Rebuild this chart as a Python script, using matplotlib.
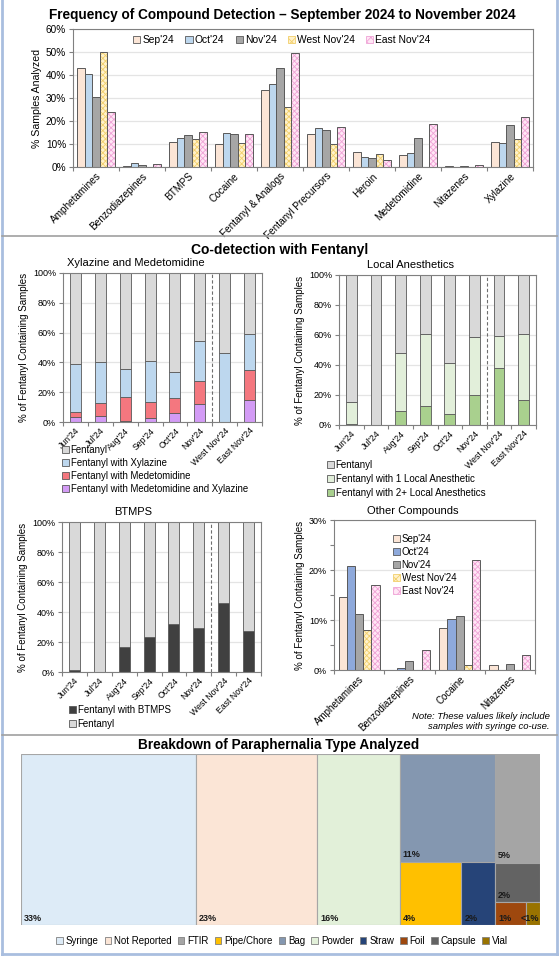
import matplotlib
matplotlib.use('Agg')
import matplotlib.pyplot as plt
import numpy as np
from matplotlib.patches import Patch, Rectangle
from matplotlib.lines import Line2D
from matplotlib.ticker import FuncFormatter, MultipleLocator

plt.rcParams['font.family'] = ['Liberation Sans', 'DejaVu Sans']
plt.rcParams['hatch.linewidth'] = 0.6

# ---------------- data ----------------
compounds = ['Amphetamines', 'Benzodiazepines', 'BTMPS', 'Cocaine', 'Fentanyl & Analogs',
             'Fentanyl Precursors', 'Heroin', 'Medetomidine', 'Nitazenes', 'Xylazine']
freq_sep = [43.0, 0.6, 10.8, 9.8, 33.6, 14.4, 6.5, 5.2, 0.3, 11.0]
freq_oct = [40.4, 1.8, 12.5, 14.6, 36.2, 17.0, 4.3, 6.2, 0.0, 10.4]
freq_nov = [30.5, 0.9, 13.8, 14.4, 43.2, 16.0, 3.8, 12.8, 0.5, 18.2]
freq_west = [50.0, 0.0, 12.0, 10.6, 26.0, 9.8, 5.6, 0.0, 0.0, 12.0]
freq_east = [24.0, 1.3, 15.2, 14.4, 49.4, 17.2, 3.0, 18.6, 0.8, 21.6]
series_names = ["Sep'24", "Oct'24", "Nov'24", "West Nov'24", "East Nov'24"]

periods = ["Jun'24", "Jul'24", "Aug'24", "Sep'24", "Oct'24", "Nov'24", "West Nov'24", "East Nov'24"]
xm_medxyl = [3.1, 4.0, 0.8, 2.5, 6.2, 12.0, 0.0, 15.0]
xm_med = [3.6, 8.8, 15.8, 10.9, 9.9, 15.7, 0.0, 20.0]
xm_xyl = [31.9, 27.2, 19.2, 27.8, 17.2, 26.9, 46.0, 24.0]
xm_fent = [61.4, 60.0, 64.2, 58.8, 66.7, 45.4, 54.0, 41.0]

la_two = [0.9, 0.0, 9.3, 12.4, 7.6, 19.8, 38.0, 16.9]
la_one = [14.7, 0.0, 38.7, 48.3, 34.0, 38.9, 21.6, 43.8]
la_fent = [84.4, 100.0, 52.0, 39.3, 58.4, 41.3, 40.4, 39.3]

bt_btmps = [1.6, 0.0, 16.7, 23.6, 32.0, 29.6, 46.0, 27.6]
bt_fent = [98.4, 100.0, 83.3, 76.4, 68.0, 70.4, 54.0, 72.4]

other = ['Amphetamines', 'Benzodiazepines', 'Cocaine', 'Nitazenes']
oc_sep = [14.7, 0.0, 8.5, 1.0]
oc_oct = [20.9, 0.4, 10.2, 0.0]
oc_nov = [11.3, 1.8, 10.9, 1.3]
oc_west = [8.0, 0.0, 1.0, 0.0]
oc_east = [17.0, 4.0, 22.0, 3.0]

para_labels = ['Syringe', 'Not Reported', 'Powder', 'Bag', 'Pipe/Chore', 'Straw',
               'FTIR', 'Capsule', 'Foil', 'Vial']
para_values = [33.7, 23.3, 15.9, 11.6, 4.4, 2.4, 5.5, 2.0, 0.8, 0.36]
para_text = ['33%', '23%', '16%', '11%', '4%', '2%', '5%', '2%', '1%', '<1%']
para_legend_order = ['Syringe', 'Not Reported', 'FTIR', 'Pipe/Chore', 'Bag', 'Powder',
                     'Straw', 'Foil', 'Capsule', 'Vial']

# ---------------- styles ----------------
EDGE = '#595959'
SPINE = '#808080'
GRID = '#E4E4E4'
c_sep = '#FBE5D6'
c_oct = '#BDD7EE'
c_oct2 = '#8EA9DB'
c_nov = '#A6A6A6'
c_west = '#FFF2CC'
h_west = '#F2CF6B'
c_east = '#FFE6F5'
h_east = '#EFA3D6'
c_fent = '#D9D9D9'
c_med = '#F4777F'
c_medxyl = '#D39BF5'
c_la1 = '#E2EFDA'
c_la2 = '#A9D08E'
c_btmps = '#404040'
para_colors = {'Syringe': '#DDEBF7', 'Not Reported': '#FBE5D6', 'Powder': '#E2F0D9',
               'Bag': '#8497B0', 'Pipe/Chore': '#FFC000', 'Straw': '#264478',
               'FTIR': '#A5A5A5', 'Capsule': '#636363', 'Foil': '#9E480E', 'Vial': '#997300'}

W, H = 560, 956
fig = plt.figure(figsize=(W / 100, H / 100), dpi=100)


def ax_px(l, t, r, b):
    return fig.add_axes([l / W, 1 - b / H, (r - l) / W, (b - t) / H])


def fx(x):
    return x / W


def fy(y):
    return 1 - y / H


pct = FuncFormatter(lambda v, p: f'{v:.0f}%')


def style_axes(ax, n, labsize):
    for s in ax.spines.values():
        s.set_color(SPINE)
        s.set_linewidth(0.8)
    ax.set_xlim(-0.5, n - 0.5)
    ax.set_xticks(np.arange(n + 1) - 0.5)
    ax.set_xticklabels([])
    ax.tick_params(axis='both', direction='out', length=3, color=SPINE, width=0.8,
                   labelsize=labsize, pad=2)
    ax.yaxis.set_major_formatter(pct)
    ax.yaxis.grid(True, color=GRID, lw=0.9)
    ax.set_axisbelow(True)


def set_cat_labels(ax, labels, size):
    ax.set_xticks(np.arange(len(labels)), minor=True)
    ax.set_xticklabels(labels, minor=True, rotation=45, ha='right', va='top',
                       rotation_mode='anchor', fontsize=size)
    ax.tick_params(axis='x', which='minor', length=0, pad=3)


def hatched_bar(ax, x, h, w, fc, hc, hatch):
    ax.bar(x, h, w, color=fc, edgecolor=hc, hatch=hatch, linewidth=0)
    ax.bar(x, h, w, fill=False, edgecolor=EDGE, linewidth=0.7)


def grouped(ax, data, colors, width):
    n = len(data)
    xs = np.arange(len(data[0]))
    for i, (vals, col) in enumerate(zip(data, colors)):
        off = (i - (n - 1) / 2) * width
        if i == 3:
            hatched_bar(ax, xs + off, vals, width, c_west, h_west, 'xxxxxx')
        elif i == 4:
            hatched_bar(ax, xs + off, vals, width, c_east, h_east, 'xxxxxx')
        else:
            ax.bar(xs + off, vals, width, color=col, edgecolor=EDGE, linewidth=0.7)


def leg_handles(cols):
    return [Patch(facecolor=c, edgecolor=EDGE, linewidth=0.6) for c in cols]


# ---------------- page frame ----------------
fig.add_artist(Line2D([fx(1.5), fx(1.5)], [0, 1], color='#A9BEDF', lw=2))
fig.add_artist(Line2D([fx(557), fx(557)], [0, 1], color='#A9BEDF', lw=2))
fig.add_artist(Line2D([fx(1.5), fx(557)], [fy(954), fy(954)], color='#A9BEDF', lw=2))
fig.add_artist(Line2D([fx(1.5), fx(557)], [fy(236), fy(236)], color='#A0A0A0', lw=1.2))
fig.add_artist(Line2D([fx(1.5), fx(557)], [fy(735), fy(735)], color='#A0A0A0', lw=1.2))

# ---------------- top chart ----------------
fig.text(fx(282), fy(15), 'Frequency of Compound Detection \u2013 September 2024 to November 2024',
         ha='center', va='center', fontsize=9.8, fontweight='bold')
ax0 = ax_px(73, 29, 533, 167)
style_axes(ax0, len(compounds), 7.2)
ax0.set_ylim(0, 60)
ax0.yaxis.set_major_locator(MultipleLocator(10))
grouped(ax0, [freq_sep, freq_oct, freq_nov, freq_west, freq_east],
        [c_sep, c_oct, c_nov, c_west, c_east], 0.165)
set_cat_labels(ax0, compounds, 7.2)
ax0.set_ylabel('% Samples Analyzed', fontsize=7.6, labelpad=3)
top_handles = [Patch(facecolor=c_sep, edgecolor=EDGE, lw=0.6),
               Patch(facecolor=c_oct, edgecolor=EDGE, lw=0.6),
               Patch(facecolor=c_nov, edgecolor=EDGE, lw=0.6),
               Patch(facecolor=c_west, edgecolor=h_west, hatch='xxxx', lw=0.6),
               Patch(facecolor=c_east, edgecolor=h_east, hatch='xxxx', lw=0.6)]
fig.legend(top_handles, series_names, loc='center', bbox_to_anchor=(fx(282), fy(40)),
           ncol=5, fontsize=7.4, frameon=False, handlelength=0.7, handleheight=0.7,
           handletextpad=0.2, columnspacing=1.1, borderpad=0, borderaxespad=0)

# ---------------- co-detection ----------------
fig.text(fx(280), fy(250), 'Co-detection with Fentanyl', ha='center', va='center',
         fontsize=10, fontweight='bold')

YLAB = '% of Fentanyl Containing Samples'
BW = 0.44
xp = np.arange(len(periods))


def stacked(ax, layers, colors):
    bottom = np.zeros(len(periods))
    for vals, col in zip(layers, colors):
        ax.bar(xp, vals, BW, bottom=bottom, color=col, edgecolor=EDGE, linewidth=0.6)
        bottom = bottom + np.array(vals)


def pct_panel(ax):
    style_axes(ax, len(periods), 6.5)
    ax.set_ylim(0, 100)
    ax.yaxis.set_major_locator(MultipleLocator(20))
    set_cat_labels(ax, periods, 6.3)
    ax.axvline(5.5, color='#6E6E6E', lw=0.8, ls=(0, (3, 2)))
    ax.set_ylabel(YLAB, fontsize=7, labelpad=3)


# Panel A
axA = ax_px(63, 273, 262, 422)
pct_panel(axA)
stacked(axA, [xm_medxyl, xm_med, xm_xyl, xm_fent], [c_medxyl, c_med, c_oct, c_fent])
fig.text(fx(136), fy(263), 'Xylazine and Medetomidine', ha='center', va='center', fontsize=8)
fig.legend(leg_handles([c_fent, c_oct, c_med, c_medxyl]),
           ['Fentanyl', 'Fentanyl with Xylazine', 'Fentanyl with Medetomidine',
            'Fentanyl with Medetomidine and Xylazine'],
           loc='upper left', bbox_to_anchor=(fx(62), fy(445)), fontsize=6.9, frameon=False,
           handlelength=0.7, handleheight=0.7, handletextpad=0.2, labelspacing=0.3,
           borderpad=0, borderaxespad=0)

# Panel B
axB = ax_px(339, 275, 536, 425)
pct_panel(axB)
stacked(axB, [la_two, la_one, la_fent], [c_la2, c_la1, c_fent])
fig.text(fx(411), fy(265), 'Local Anesthetics', ha='center', va='center', fontsize=8)
fig.legend(leg_handles([c_fent, c_la1, c_la2]),
           ['Fentanyl', 'Fentanyl with 1 Local Anesthetic', 'Fentanyl with 2+ Local Anesthetics'],
           loc='upper left', bbox_to_anchor=(fx(327), fy(460)), fontsize=7, frameon=False,
           handlelength=0.7, handleheight=0.7, handletextpad=0.2, labelspacing=0.4,
           borderpad=0, borderaxespad=0)

# Panel C
axC = ax_px(62, 522, 261, 672)
pct_panel(axC)
stacked(axC, [bt_btmps, bt_fent], [c_btmps, c_fent])
fig.text(fx(133), fy(512), 'BTMPS', ha='center', va='center', fontsize=8)
fig.legend(leg_handles([c_btmps, c_fent]), ['Fentanyl with BTMPS', 'Fentanyl'],
           loc='upper left', bbox_to_anchor=(fx(69), fy(705)), fontsize=7, frameon=False,
           handlelength=0.7, handleheight=0.7, handletextpad=0.2, labelspacing=0.4,
           borderpad=0, borderaxespad=0)

# Panel D
axD = ax_px(334, 520, 535, 670)
style_axes(axD, len(other), 6.5)
axD.set_ylim(0, 30)
axD.yaxis.set_major_locator(MultipleLocator(10))
axD.yaxis.set_minor_locator(MultipleLocator(5))
axD.tick_params(axis='y', which='minor', direction='out', length=3, color=SPINE, width=0.8)
grouped(axD, [oc_sep, oc_oct, oc_nov, oc_west, oc_east],
        [c_sep, c_oct2, c_nov, c_west, c_east], 0.163)
set_cat_labels(axD, other, 7)
axD.set_ylabel(YLAB, fontsize=7, labelpad=3)
fig.text(fx(413), fy(511), 'Other Compounds', ha='center', va='center', fontsize=8)
d_handles = [Patch(facecolor=c_sep, edgecolor=EDGE, lw=0.6),
             Patch(facecolor=c_oct2, edgecolor=EDGE, lw=0.6),
             Patch(facecolor=c_nov, edgecolor=EDGE, lw=0.6),
             Patch(facecolor=c_west, edgecolor=h_west, hatch='xxxx', lw=0.6),
             Patch(facecolor=c_east, edgecolor=h_east, hatch='xxxx', lw=0.6)]
fig.legend(d_handles, series_names, loc='upper left', bbox_to_anchor=(fx(393), fy(534)),
           fontsize=7, frameon=False, handlelength=0.7, handleheight=0.7,
           handletextpad=0.2, labelspacing=0.3, borderpad=0, borderaxespad=0)
fig.text(fx(550), fy(712), 'Note: These values likely include\nsamples with syringe co-use.',
         ha='right', va='top', fontsize=6.8, style='italic', linespacing=1.15)

# ---------------- treemap ----------------
fig.text(fx(279), fy(745), 'Breakdown of Paraphernalia Type Analyzed', ha='center',
         va='center', fontsize=9.8, fontweight='bold')
axT = ax_px(21, 754, 540, 925)
axT.set_xlim(0, 100)
axT.set_ylim(0, 100)
axT.axis('off')

# group structure: columns -> rows -> items (indices into para_values)
structure = [[[0]], [[1]], [[2]], [[3], [4, 5]], [[6], [7], [8, 9]]]
vals = np.array(para_values)
total = vals.sum()
x0 = 0.0
for col in structure:
    col_sum = sum(vals[i] for row in col for i in row)
    cw = 100 * col_sum / total
    ytop = 100.0
    for row in col:
        row_sum = sum(vals[i] for i in row)
        rh = 100 * row_sum / col_sum
        xx = x0
        for i in row:
            iw = cw * vals[i] / row_sum
            name = para_labels[i]
            axT.add_patch(Rectangle((xx, ytop - rh), iw, rh, facecolor=para_colors[name],
                                    edgecolor='#A6A6A6', lw=0.8))
            txtcol = '#1a1a1a'
            if iw < 4:
                axT.annotate(para_text[i], (xx + iw, ytop - rh), xytext=(-0.5, 5),
                             textcoords='offset points', ha='right', va='center',
                             fontsize=6.5, fontweight='bold', color=txtcol)
            else:
                axT.annotate(para_text[i], (xx, ytop - rh), xytext=(2.2, 5),
                             textcoords='offset points', ha='left', va='center',
                             fontsize=6.5, fontweight='bold', color=txtcol)
            xx += iw
        ytop -= rh
    x0 += cw

t_handles = [Patch(facecolor=para_colors[n], edgecolor='#808080', lw=0.6) for n in para_legend_order]
fig.legend(t_handles, para_legend_order, loc='center', bbox_to_anchor=(fx(282), fy(941)),
           ncol=10, fontsize=7, frameon=False, handlelength=0.7, handleheight=0.7,
           handletextpad=0.3, columnspacing=0.6, borderpad=0, borderaxespad=0)

fig.savefig('out.png', dpi=100)
